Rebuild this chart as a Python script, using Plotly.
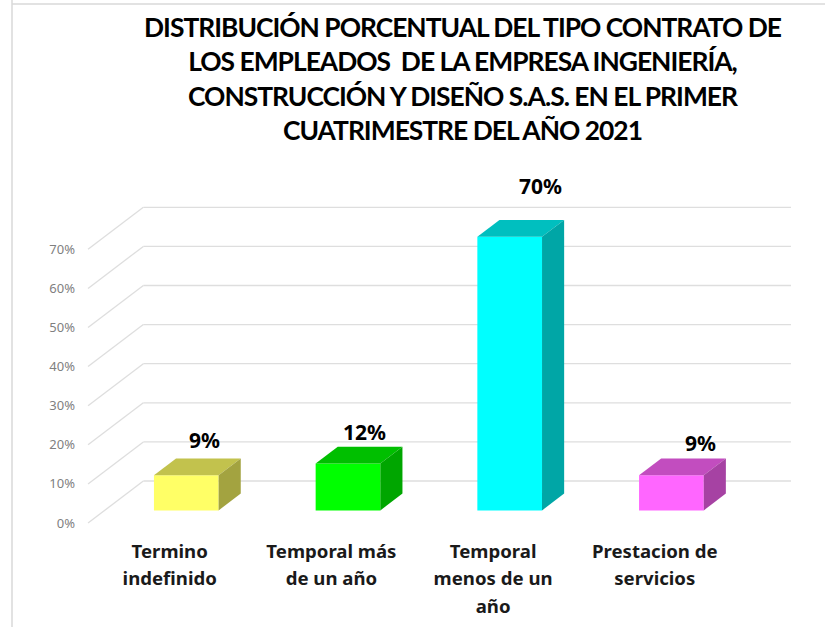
import plotly.graph_objects as go

categories = [["Termino", "indefinido"], ["Temporal más", "de un año"],
              ["Temporal", "menos de un", "año"], ["Prestacion de", "servicios"]]
values = [9, 12, 70, 9]
value_labels = ["9%", "12%", "70%", "9%"]
y_ticks = [0, 10, 20, 30, 40, 50, 60, 70]
y_labels = ["0%", "10%", "20%", "30%", "40%", "50%", "60%", "70%"]
title_lines = ["DISTRIBUCIÓN PORCENTUAL DEL TIPO CONTRATO DE",
               "LOS EMPLEADOS  DE LA EMPRESA INGENIERÍA,",
               "CONSTRUCCIÓN Y DISEÑO S.A.S. EN EL PRIMER",
               "CUATRIMESTRE DEL AÑO 2021"]

front_colors = ["#FFFF66", "#00FF00", "#00FFFF", "#FF66FF"]
top_colors = ["#C2C24D", "#00BF00", "#00BFBF", "#C24DBF"]
side_colors = ["#A3A340", "#00A600", "#00A6A6", "#A642A3"]
GRID = "#DEDEDE"

# pixel calibration of the chart
W, H = 825, 627
PX_X0, PX_PER_CAT = 169.7, 161.7
PX_Y0, PX_PER_PCT = 523.0, 3.91
L_M, B_PX = 78, 536
x_range = [(L_M - PX_X0) / PX_PER_CAT, (W - PX_X0) / PX_PER_CAT]
y_range = [(PX_Y0 - B_PX) / PX_PER_PCT, PX_Y0 / PX_PER_PCT]

# oblique projection: depth d (0..1) moves a point right and up
DEPTH_X = 55.3 / PX_PER_CAT
DEPTH_Y = 42.0 / PX_PER_PCT
D_FRONT, D_BACK = 0.30, 0.70
BAR_W = 0.40
WALL_L, WALL_R = -0.505, 3.5

label_shift = [(35, 47.8), (32.6, 44), (47, 63.3), (46, 44.8)]

fig = go.Figure()

# front faces
fig.add_trace(go.Bar(
    x=[i + D_FRONT * DEPTH_X for i in range(len(values))],
    y=values, base=D_FRONT * DEPTH_Y, width=BAR_W,
    marker=dict(color=front_colors, line=dict(width=0)), hoverinfo="skip", showlegend=False))

# top and side faces
for i, v in enumerate(values):
    xl = i + D_FRONT * DEPTH_X - BAR_W / 2
    xr = xl + BAR_W
    yb = D_FRONT * DEPTH_Y
    yt = yb + v
    ddx = (D_BACK - D_FRONT) * DEPTH_X
    ddy = (D_BACK - D_FRONT) * DEPTH_Y
    fig.add_trace(go.Scatter(x=[xl, xr, xr + ddx, xl + ddx, xl], y=[yt, yt, yt + ddy, yt + ddy, yt],
                             mode="lines", fill="toself", fillcolor=top_colors[i], line=dict(width=0),
                             hoverinfo="skip", showlegend=False))
    fig.add_trace(go.Scatter(x=[xr, xr + ddx, xr + ddx, xr, xr], y=[yb, yb + ddy, yt + ddy, yt, yb],
                             mode="lines", fill="toself", fillcolor=side_colors[i], line=dict(width=0),
                             hoverinfo="skip", showlegend=False))

# oblique gridlines, behind the bars
shapes = []
for t in y_ticks:
    bx = WALL_L + DEPTH_X
    by = t + DEPTH_Y
    shapes.append(dict(type="line", xref="x", yref="y", x0=WALL_L, y0=t, x1=bx, y1=by,
                       line=dict(color=GRID, width=1.3), layer="below"))
    shapes.append(dict(type="line", xref="x", yref="y", x0=bx, y0=by, x1=WALL_R + DEPTH_X, y1=by,
                       line=dict(color=GRID, width=1.3), layer="below"))
# outer frame of the picture
fx = (12 - L_M) / (W - L_M)
shapes.append(dict(type="line", xref="paper", yref="paper", x0=fx, x1=fx, y0=-1, y1=1.2,
                   line=dict(color="#D9D9D9", width=1.5)))
fy = (B_PX - 4) / B_PX
shapes.append(dict(type="line", xref="paper", yref="paper", x0=fx, x1=1.2, y0=fy, y1=fy,
                   line=dict(color="#D9D9D9", width=1.5)))

annotations = []
for i, (v, s) in enumerate(zip(values, value_labels)):
    annotations.append(dict(x=i, y=v, xref="x", yref="y", text=s, showarrow=False,
                            xshift=label_shift[i][0], yshift=label_shift[i][1],
                            font=dict(family="Noto Sans", size=21, color="#000000", weight="bold"),
                            xanchor="center", yanchor="middle"))

cat_text = ["<br>".join(f'<span style="font-size:18.6px">{p}</span>' for p in c) for c in categories]
title_text = "<br>".join(f'<span style="letter-spacing:-1px">{t}</span>' for t in title_lines)

fig.update_layout(
    width=W, height=H, autosize=False,
    margin=dict(l=L_M, r=0, t=0, b=H - B_PX, pad=0),
    paper_bgcolor="#FFFFFF", plot_bgcolor="rgba(0,0,0,0)",
    showlegend=False, barmode="overlay",
    title=dict(text=title_text, x=462.5 / W, xref="container", xanchor="center",
               y=1 - 37 / H, yref="container", yanchor="top",
               font=dict(family="Lato", size=26.4, color="#000000", weight="bold")),
    xaxis=dict(range=x_range, tickmode="array", tickvals=list(range(len(categories))), ticktext=cat_text,
               showgrid=False, zeroline=False, showline=False, ticks="", automargin=False, tickangle=0,
               tickfont=dict(family="Noto Sans", size=21, color="#1A1A1A", weight="bold")),
    yaxis=dict(range=y_range, tickmode="array", tickvals=y_ticks, ticktext=y_labels,
               showgrid=False, zeroline=False, showline=False, ticks="", automargin=False,
               ticklabelstandoff=2,
               tickfont=dict(family="Noto Sans", size=13, color="#7F7F7F")),
    shapes=shapes, annotations=annotations)

fig.write_html("out.html", config={"displayModeBar": False},
               post_script="document.body.style.margin='0';document.documentElement.style.overflow='hidden';")
